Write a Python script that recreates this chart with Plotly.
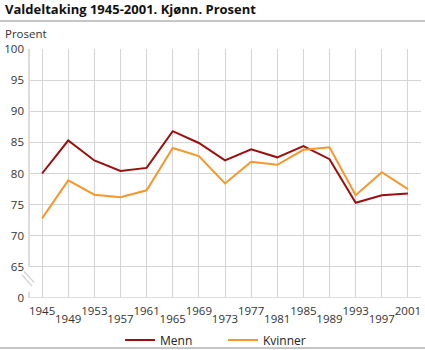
import plotly.graph_objects as go

# Valgdeltaking ved stortingsval, etter kjønn (prosent)
years = [1945, 1949, 1953, 1957, 1961, 1965, 1969, 1973, 1977, 1981, 1985, 1989, 1993, 1997, 2001]
menn = [80.0, 85.3, 82.1, 80.4, 80.9, 86.8, 84.9, 82.1, 83.9, 82.6, 84.4, 82.3, 75.3, 76.5, 76.8]
kvinner = [72.8, 78.9, 76.6, 76.2, 77.3, 84.1, 82.8, 78.4, 81.9, 81.4, 83.8, 84.2, 76.5, 80.2, 77.5]

# The y axis is broken between 0 and 65: value 0 is drawn one step below 65
y_tick_vals = [60, 65, 70, 75, 80, 85, 90, 95, 100]
y_tick_text = ["0", "65", "70", "75", "80", "85", "90", "95", "100"]

FONT = "Open Sans, DejaVu Sans, sans-serif"
GRID = "#d4d4d4"
AXIS = "#dcdcdc"
W, H = 392, 249  # plot area size in pixels

fig = go.Figure()
fig.add_trace(go.Scatter(x=years, y=menn, name="Menn", mode="lines",
                         line=dict(color="#9b0f0f", width=2)))
fig.add_trace(go.Scatter(x=years, y=kvinner, name="Kvinner", mode="lines",
                         line=dict(color="#f7962b", width=2)))
# invisible trace carrying the second (staggered) row of year labels
fig.add_trace(go.Scatter(x=years, y=[None] * len(years), xaxis="x2",
                         showlegend=False, hoverinfo="skip"))

x_range = [1943, 2003]
tick_font = dict(size=11.5, color="#333", family=FONT)
fig.update_layout(
    width=425, height=350,
    margin=dict(l=29, r=4, t=49, b=52, autoexpand=False),
    paper_bgcolor="white", plot_bgcolor="white",
    font=dict(family=FONT, size=12, color="#333"),
    showlegend=True,
    legend=dict(orientation="h", x=(128 - 29 - 8) / W, xanchor="left",
                y=-42 / H, yanchor="middle",
                font=dict(size=12, color="#222", family=FONT), entrywidth=58,
                itemwidth=30, bgcolor="rgba(0,0,0,0)", tracegroupgap=0),
    xaxis=dict(range=x_range, tickvals=years[::2], ticktext=[str(v) for v in years[::2]],
               showgrid=True, gridcolor=GRID, gridwidth=1, zeroline=False,
               showline=False, ticks="", tickfont=tick_font, automargin=False,
               ticklabelstandoff=4),
    xaxis2=dict(range=x_range, overlaying="x", side="bottom", anchor="y",
                tickvals=years[1::2], ticktext=[str(v) for v in years[1::2]],
                showgrid=True, gridcolor=GRID, gridwidth=1, zeroline=False,
                showline=False, ticks="", tickfont=tick_font, automargin=False,
                ticklabelstandoff=12),
    yaxis=dict(range=[60, 100], tickvals=y_tick_vals, ticktext=y_tick_text,
               showgrid=True, gridcolor=GRID, gridwidth=1, zeroline=False,
               showline=False, ticks="", tickfont=tick_font, automargin=False,
               ticklabelstandoff=4),
)

shapes = [
    # rule under the title and at the bottom
    dict(type="line", xref="paper", yref="paper", x0=-29 / W, x1=1 + 4 / W,
         y0=1 + 28 / H, y1=1 + 28 / H, line=dict(color="#8c8c8c", width=1)),
    dict(type="line", xref="paper", yref="paper", x0=-29 / W, x1=1 + 4 / W,
         y0=-50 / H, y1=-50 / H, line=dict(color="#8c8c8c", width=1)),
    # bottom axis line
    dict(type="line", xref="paper", yref="y", x0=0, x1=1, y0=60, y1=60,
         line=dict(color=AXIS, width=2)),
    # left axis line, interrupted at the break
    dict(type="line", xref="paper", yref="y", x0=0, x1=0, y0=65, y1=100,
         line=dict(color=AXIS, width=2)),
    dict(type="line", xref="paper", yref="y", x0=0, x1=0, y0=60, y1=61,
         line=dict(color=AXIS, width=2)),
    # break marks
    dict(type="line", xref="paper", yref="y", x0=-7 / W, x1=3 / W, y0=63.7, y1=61.9,
         line=dict(color="#cfcfcf", width=1.2)),
    dict(type="line", xref="paper", yref="y", x0=-5 / W, x1=5 / W, y0=64.3, y1=62.5,
         line=dict(color="#cfcfcf", width=1.2)),
]
fig.update_layout(shapes=shapes)

fig.add_annotation(text="<b>Valdeltaking 1945-2001. Kjønn. Prosent</b>",
                   xref="paper", yref="paper", x=-26 / W, y=1 + 40 / H,
                   xanchor="left", yanchor="middle", showarrow=False,
                   font=dict(size=13, color="#111", family=FONT))
fig.add_annotation(text="Prosent", xref="paper", yref="paper",
                   x=-26 / W, y=1 + 16 / H, xanchor="left", yanchor="middle",
                   showarrow=False, font=dict(size=11.5, color="#333", family=FONT))

fig.write_html("out.html")
